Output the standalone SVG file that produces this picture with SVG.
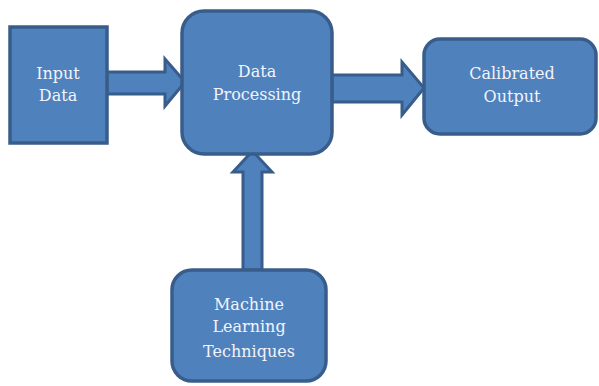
<svg xmlns="http://www.w3.org/2000/svg" width="599" height="386" viewBox="0 0 599 386">
<style>
.box{fill:#4f81bd;stroke:#385d8a;stroke-width:3.5}
.arr{fill:#4f81bd;stroke:#385d8a;stroke-width:3;stroke-linejoin:miter}
.t{font-family:"DejaVu Serif","Liberation Serif",serif;font-size:16px;fill:#f2f4fa;text-anchor:middle}
</style>
<rect width="599" height="386" fill="#ffffff"/>
<g id="connectors">
<polygon class="arr" points="107,72 165,72 165,59 185,82 165,106 165,94 107,94"/>
<polygon class="arr" points="332,75 402,75 402,62 424,88 402,115 402,102 332,102"/>
<polygon class="arr" points="243,270 243,172 233,172 252.5,151 272,172 262,172 262,270"/>
</g>
<g id="input-data">
<rect class="box" x="10" y="27" width="97" height="116"/>
<text class="t" x="58" y="79">Input</text>
<text class="t" x="58" y="101">Data</text>
</g>
<g id="data-processing">
<rect class="box" x="182" y="11" width="150" height="143" rx="22"/>
<text class="t" x="257" y="77">Data</text>
<text class="t" x="257" y="100">Processing</text>
</g>
<g id="calibrated-output">
<rect class="box" x="424" y="39" width="172" height="95" rx="16"/>
<text class="t" x="512" y="79">Calibrated</text>
<text class="t" x="512" y="102">Output</text>
</g>
<g id="machine-learning">
<rect class="box" x="172" y="270" width="154" height="111" rx="20"/>
<text class="t" x="249" y="310">Machine</text>
<text class="t" x="249" y="332">Learning</text>
<text class="t" x="249" y="357">Techniques</text>
</g>
</svg>
